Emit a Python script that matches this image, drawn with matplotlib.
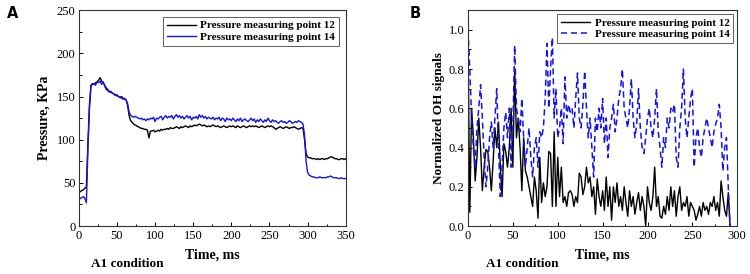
import numpy as np
import matplotlib
matplotlib.use("Agg")
import matplotlib.pyplot as plt
from matplotlib.ticker import MultipleLocator, FormatStrFormatter

# ---------------- data ----------------
# panel A: pressure traces, 2 ms steps from 0 to 350 ms
p_time = list(range(0, 352, 2))
p12 = [38, 40, 41, 42, 44, 45, 95, 140, 163, 165, 164, 166, 167, 169, 172, 168, 166, 163,
       160, 158, 156, 155, 154, 153, 152, 151, 150, 149, 150, 148, 147, 146, 140, 128, 122,
       120, 118, 117, 116, 115, 114, 113, 113, 112, 112, 111, 102, 110, 110, 111, 109, 110,
       111, 110, 112, 111, 112, 112, 113, 112, 114, 113, 113, 114, 115, 114, 113, 115, 114,
       115, 116, 115, 114, 116, 115, 116, 117, 116, 117, 118, 117, 116, 117, 116, 115, 116,
       115, 116, 117, 116, 115, 116, 115, 114, 115, 116, 115, 114, 115, 116, 115, 116, 115,
       114, 116, 115, 114, 115, 116, 115, 114, 115, 116, 115, 116, 115, 116, 115, 114, 115,
       116, 115, 114, 115, 116, 115, 116, 115, 114, 112, 113, 114, 115, 114, 113, 114, 115,
       114, 113, 114, 114, 115, 114, 113, 112, 113, 114, 113, 100, 84, 80, 79, 79, 78, 78,
       78, 77, 78, 77, 78, 78, 77, 78, 78, 79, 80, 80, 79, 78, 78, 77, 77, 78, 78, 77, 78]
p14 = [30, 32, 33, 34, 32, 27, 90, 135, 162, 164, 165, 163, 167, 166, 168, 164, 167, 162,
       158, 157, 155, 156, 154, 153, 151, 152, 150, 149, 148, 147, 148, 146, 142, 132, 128,
       127, 126, 127, 126, 125, 124, 125, 123, 124, 122, 124, 123, 125, 124, 126, 121, 125,
       124, 126, 127, 123, 126, 128, 125, 127, 126, 128, 124, 127, 129, 126, 128, 125, 127,
       124, 126, 128, 125, 127, 123, 126, 125, 127, 124, 129, 126, 128, 125, 127, 124, 126,
       125, 124, 126, 123, 125, 124, 126, 122, 125, 124, 121, 125, 123, 124, 122, 125, 123,
       121, 124, 122, 125, 121, 123, 124, 122, 121, 123, 125, 122, 124, 120, 123, 121, 124,
       122, 120, 123, 121, 125, 122, 120, 123, 121, 122, 120, 119, 121, 122, 120, 121, 119,
       120, 122, 121, 119, 120, 121, 120, 122, 121, 120, 118, 105, 75, 62, 59, 58, 57, 57,
       56, 56, 56, 57, 56, 56, 56, 56, 57, 57, 58, 57, 56, 56, 56, 55, 55, 56, 55, 55, 55]

# panel B: normalized OH signals, 2 ms steps from 0 to 292 ms
oh_time = list(range(0, 294, 2))
oh12 = [0.95, 0.07, 0.60, 0.45, 0.23, 0.35, 0.55, 0.40, 0.18, 0.30, 0.39, 0.38, 0.30, 0.18,
        0.33, 0.50, 0.40, 0.53, 0.30, 0.15, 0.42, 0.38, 0.30, 0.40, 0.60, 0.30, 0.80, 0.45,
        0.55, 0.40, 0.18, 0.45, 0.28, 0.25, 0.20, 0.15, 0.10, 0.25, 0.18, 0.04, 0.35, 0.12,
        0.22, 0.15, 0.20, 0.38, 0.37, 0.10, 0.48, 0.10, 0.35, 0.15, 0.30, 0.12, 0.15, 0.10,
        0.17, 0.18, 0.16, 0.10, 0.15, 0.12, 0.27, 0.25, 0.16, 0.20, 0.30, 0.22, 0.25, 0.15,
        0.20, 0.06, 0.24, 0.15, 0.10, 0.18, 0.08, 0.25, 0.10, 0.20, 0.03, 0.20, 0.12, 0.22,
        0.10, 0.15, 0.08, 0.20, 0.12, 0.05, 0.18, 0.10, 0.15, 0.06, 0.12, 0.17, 0.08, 0.15,
        0.10, 0.00, 0.20, 0.12, 0.08, 0.15, 0.30, 0.10, 0.15, 0.05, 0.04, 0.10, 0.06, 0.15,
        0.08, 0.20, 0.10, 0.18, 0.05, 0.15, 0.20, 0.08, 0.12, 0.10, 0.15, 0.05, 0.12, 0.10,
        0.08, 0.03, 0.06, 0.10, 0.05, 0.12, 0.08, 0.10, 0.06, 0.12, 0.10, 0.15, 0.08, 0.12,
        0.05, 0.23, 0.15, 0.08, 0.05, 0.17, 0.00]
oh14 = [1.00, 0.80, 0.55, 0.40, 0.30, 0.50, 0.60, 0.72, 0.55, 0.35, 0.20, 0.30, 0.45, 0.53,
        0.40, 0.55, 0.70, 0.40, 0.15, 0.30, 0.50, 0.58, 0.45, 0.60, 0.30, 0.50, 0.92, 0.60,
        0.55, 0.48, 0.65, 0.45, 0.30, 0.40, 0.50, 0.35, 0.25, 0.40, 0.45, 0.30, 0.48, 0.45,
        0.50, 0.65, 0.93, 0.60, 0.80, 0.96, 0.55, 0.70, 0.45, 0.50, 0.60, 0.42, 0.76, 0.55,
        0.62, 0.58, 0.60, 0.50, 0.65, 0.78, 0.55, 0.50, 0.62, 0.79, 0.60, 0.45, 0.55, 0.40,
        0.25, 0.55, 0.48, 0.60, 0.50, 0.65, 0.42, 0.55, 0.35, 0.50, 0.55, 0.62, 0.48, 0.55,
        0.65, 0.70, 0.80, 0.60, 0.55, 0.50, 0.60, 0.75, 0.55, 0.45, 0.52, 0.70, 0.50, 0.40,
        0.37, 0.45, 0.55, 0.60, 0.50, 0.45, 0.55, 0.70, 0.48, 0.40, 0.30, 0.45, 0.40, 0.55,
        0.50, 0.60, 0.58, 0.62, 0.35, 0.30, 0.50, 0.60, 0.80, 0.55, 0.45, 0.55, 0.65, 0.70,
        0.30, 0.45, 0.50, 0.40, 0.35, 0.45, 0.50, 0.55, 0.50, 0.45, 0.40, 0.48, 0.52, 0.55,
        0.62, 0.50, 0.28, 0.40, 0.45, 0.20, 0.00]

legend_labels = ["Pressure measuring point 12", "Pressure measuring point 14"]

# ---------------- figure ----------------
plt.rcParams['font.family'] = ['Liberation Serif', 'DejaVu Serif']
plt.rcParams['font.size'] = 9

fig = plt.figure(figsize=(7.5, 2.74), dpi=100)
axA = fig.add_axes([0.105, 0.175, 0.356, 0.788])
axB = fig.add_axes([0.624, 0.175, 0.359, 0.788])


def style_axis(ax):
    for s in ax.spines.values():
        s.set_linewidth(0.8)
        s.set_color('#333333')
    ax.tick_params(which='both', direction='in', top=False, right=False,
                   labelsize=9, width=0.7, pad=2.5)
    ax.tick_params(which='major', length=3)
    ax.tick_params(which='minor', length=1.8)


# panel A
axA.plot(p_time, p12, color='black', lw=1.0, label=legend_labels[0])
axA.plot(p_time, p14, color='#1414e6', lw=1.0, label=legend_labels[1])
axA.set_xlim(0, 350)
axA.set_ylim(0, 250)
axA.xaxis.set_major_locator(MultipleLocator(50))
axA.xaxis.set_minor_locator(MultipleLocator(25))
axA.yaxis.set_major_locator(MultipleLocator(50))
axA.yaxis.set_minor_locator(MultipleLocator(25))
axA.set_xlabel("Time, ms", fontsize=10, fontweight='bold', labelpad=5)
axA.set_ylabel("Pressure, KPa", fontsize=10, fontweight='bold', labelpad=4)
style_axis(axA)
legA = axA.legend(loc='upper right', prop={'weight': 'bold', 'size': 8},
                  frameon=True, fancybox=False, borderpad=0.35, labelspacing=0.15,
                  handlelength=2.6, handletextpad=0.4, borderaxespad=0.6)
legA.get_frame().set_edgecolor('#333333')
legA.get_frame().set_linewidth(0.7)

# panel B
axB.plot(oh_time, oh12, color='black', lw=1.0, label=legend_labels[0])
axB.plot(oh_time, oh14, color='#1414e6', lw=1.1, ls=(0, (4, 2.5)), label=legend_labels[1])
axB.set_xlim(0, 300)
axB.set_ylim(0, 1.1)
axB.xaxis.set_major_locator(MultipleLocator(50))
axB.xaxis.set_minor_locator(MultipleLocator(25))
axB.yaxis.set_major_locator(MultipleLocator(0.2))
axB.yaxis.set_minor_locator(MultipleLocator(0.1))
axB.yaxis.set_major_formatter(FormatStrFormatter('%.1f'))
axB.set_xlabel("Time, ms", fontsize=10, fontweight='bold', labelpad=5)
axB.set_ylabel("Normalized OH signals", fontsize=9.5, fontweight='bold', labelpad=3)
style_axis(axB)
legB = axB.legend(loc='upper right', prop={'weight': 'bold', 'size': 8},
                  frameon=True, fancybox=False, borderpad=0.35, labelspacing=0.15,
                  handlelength=2.6, handletextpad=0.4, borderaxespad=0.35)
legB.get_frame().set_edgecolor('#333333')
legB.get_frame().set_linewidth(0.7)

# panel letters and condition captions
fig.text(0.009, 0.978, "A", family='DejaVu Sans', fontsize=10.5, fontweight='bold', va='top')
fig.text(0.546, 0.978, "B", family='DejaVu Sans', fontsize=10.5, fontweight='bold', va='top')
fig.text(0.17, 0.025, "A1 condition", fontsize=9.5, fontweight='bold', ha='center')
fig.text(0.696, 0.025, "A1 condition", fontsize=9.5, fontweight='bold', ha='center')

fig.savefig("out.png", dpi=100)
